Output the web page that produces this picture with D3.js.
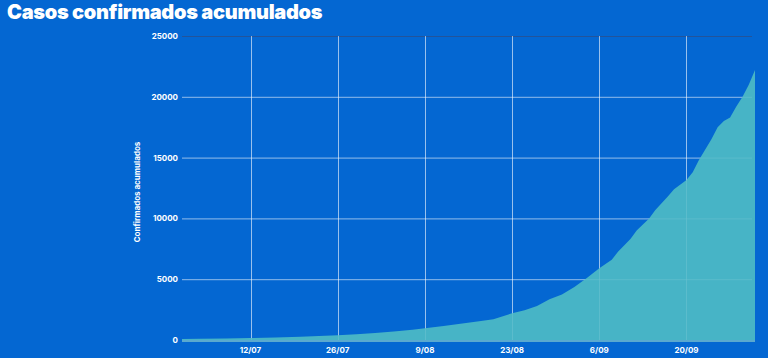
<!DOCTYPE html>
<html>
<head>
<meta charset="utf-8">
<script src="https://cdn.jsdelivr.net/npm/d3@7"></script>
<style>
  html, body { margin: 0; padding: 0; background: #0467d2; }
  svg { display: block; }
</style>
</head>
<body>
<div id="chart"></div>
<script>
const BG = "#0467d2";
const AREA = "#47b4c6";

// cumulative confirmed cases
const dates = [
  "2020-07-01", "2020-07-04", "2020-07-08", "2020-07-12", "2020-07-16", "2020-07-20",
  "2020-07-23", "2020-07-26", "2020-07-29", "2020-08-01", "2020-08-04", "2020-08-07",
  "2020-08-09", "2020-08-12", "2020-08-15", "2020-08-18", "2020-08-20", "2020-08-23",
  "2020-08-25", "2020-08-27", "2020-08-29", "2020-08-31", "2020-09-02", "2020-09-04",
  "2020-09-06", "2020-09-08", "2020-09-09", "2020-09-11", "2020-09-12", "2020-09-14",
  "2020-09-15", "2020-09-17", "2020-09-18", "2020-09-20", "2020-09-21", "2020-09-22",
  "2020-09-24", "2020-09-25", "2020-09-26", "2020-09-27", "2020-09-28", "2020-09-29",
  "2020-09-30", "2020-10-01"
];
const cases = [
  90, 110, 130, 160, 200, 260,
  320, 390, 480, 580, 700, 850,
  960, 1150, 1350, 1560, 1700, 2200,
  2450, 2800, 3350, 3750, 4350, 5100,
  5900, 6600, 7250, 8300, 9000, 10000,
  10700, 11800, 12400, 13150, 13800, 14800,
  16500, 17500, 18000, 18300, 19200, 20000,
  21000, 22200
];
const yTicks = [0, 5000, 10000, 15000, 20000, 25000];
const xTicks = ["2020-07-12", "2020-07-26", "2020-08-09", "2020-08-23", "2020-09-06", "2020-09-20"];

const W = 768, H = 358;
const margin = { top: 36, right: 13, bottom: 18, left: 182 };

const parse = d3.timeParse("%Y-%m-%d");
const data = dates.map((d, i) => ({ date: parse(d), value: cases[i] }));

const svg = d3.select("#chart").append("svg")
  .attr("width", W)
  .attr("height", H);

svg.append("rect")
  .attr("width", W)
  .attr("height", H)
  .attr("fill", BG);

svg.append("text")
  .attr("x", 7)
  .attr("y", 19)
  .attr("fill", "white")
  .style("font-family", "Inter, 'Noto Sans', sans-serif")
  .style("font-weight", 900)
  .style("font-size", "20px")
  .style("letter-spacing", "-0.3px")
  .text("Casos confirmados acumulados");

let x = d3.scaleTime()
  .domain([parse("2020-07-01"), parse("2020-10-01")])
  .range([margin.left, W - margin.right]);

let y = d3.scaleLinear()
  .domain([0, 25000])
  .range([H - margin.bottom, margin.top]);

function drawGrid(opacity) {
  let grid = svg.append("g").attr("opacity", opacity);
  grid.selectAll("line.h")
    .data(yTicks.filter(d => d > 0))
    .join("line")
    .attr("class", "h")
    .attr("x1", margin.left)
    .attr("x2", W - margin.right - 3)
    .attr("y1", d => y(d) + 0.5)
    .attr("y2", d => y(d) + 0.5)
    .attr("stroke", d => d === 25000 ? "#23549a" : "white")
    .attr("stroke-opacity", d => d === 25000 ? 1 : 0.5)
    .attr("stroke-width", 1);

  grid.selectAll("line.v")
    .data(xTicks.map(parse))
    .join("line")
    .attr("class", "v")
    .attr("x1", d => Math.round(x(d)) + 0.5)
    .attr("x2", d => Math.round(x(d)) + 0.5)
    .attr("y1", margin.top)
    .attr("y2", H - margin.bottom)
    .attr("stroke", "white")
    .attr("stroke-opacity", 0.55)
    .attr("stroke-width", 1);
}

drawGrid(1);

// area
let area = d3.area()
  .x(d => x(d.date))
  .y0(y(0))
  .y1(d => y(d.value));

svg.append("path")
  .datum(data)
  .attr("d", area)
  .attr("fill", AREA);

// gridlines show faintly through the area
drawGrid(0.2);

// zero line
svg.append("line")
  .attr("x1", margin.left)
  .attr("x2", W - margin.right)
  .attr("y1", y(0) + 1)
  .attr("y2", y(0) + 1)
  .attr("stroke", "#5aa9cf")
  .attr("stroke-width", 2);

// y tick labels
svg.append("g").selectAll("text")
  .data(yTicks)
  .join("text")
  .attr("x", margin.left - 4)
  .attr("y", d => y(d) + 3)
  .attr("text-anchor", "end")
  .attr("fill", "white")
  .style("font-family", "Inter, 'Noto Sans', sans-serif")
  .style("font-weight", 700)
  .style("font-size", "8px")
  .text(d => d);

// x tick labels
let fmt = d => `${d.getDate()}/${String(d.getMonth() + 1).padStart(2, "0")}`;
svg.append("g").selectAll("text")
  .data(xTicks.map(parse))
  .join("text")
  .attr("x", d => x(d))
  .attr("y", H - 5)
  .attr("text-anchor", "middle")
  .attr("fill", "white")
  .style("font-family", "Inter, 'Noto Sans', sans-serif")
  .style("font-weight", 700)
  .style("font-size", "8px")
  .text(fmt);

// y axis title
svg.append("text")
  .attr("transform", `translate(140, ${(margin.top + H - margin.bottom) / 2 + 4}) rotate(-90)`)
  .attr("text-anchor", "middle")
  .attr("fill", "white")
  .style("font-family", "Inter, 'Noto Sans', sans-serif")
  .style("font-weight", 700)
  .style("font-size", "8px")
  .text("Confirmados acumulados");
</script>
</body>
</html>
